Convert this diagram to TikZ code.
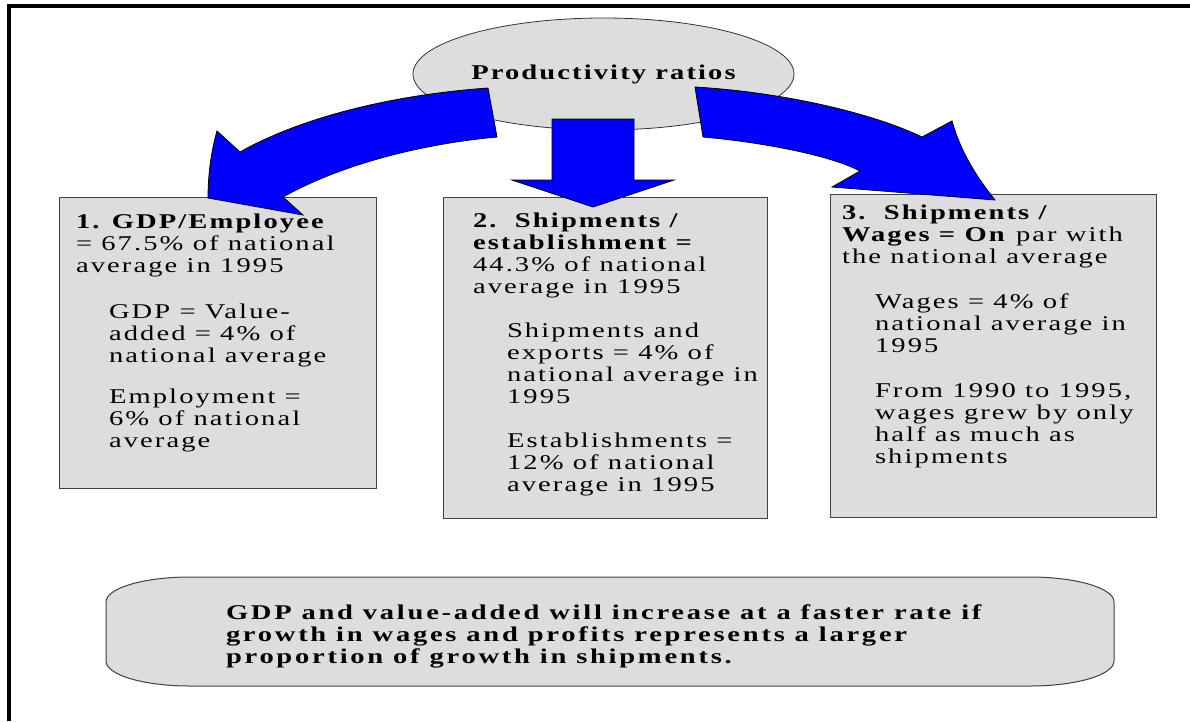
\documentclass[tikz,border=0pt]{standalone}
\usepackage{fontspec}
\setmainfont{Liberation Serif}[FakeStretch=1.36,LetterSpace=10]
\usetikzlibrary{shapes.geometric}
\definecolor{boxgray}{HTML}{DDDDDD}
\definecolor{arrowblue}{HTML}{0000FF}
\begin{document}
\begin{tikzpicture}[x=1pt,y=-1pt,
  box/.style={draw=black!75, fill=boxgray, line width=1pt, inner sep=0pt, outer sep=0pt, anchor=north west},
  blk/.style={fill=arrowblue, draw=black, line width=0.8pt, line join=miter},
  txt/.style={anchor=base west, inner sep=0pt, outer sep=0pt, font=\fontsize{21}{22}\selectfont}]
\useasboundingbox (0,0) rectangle (1190,721);
% frame
\draw[line width=3.5pt] (9,721) -- (9,6) -- (1190,6);
% title ellipse
\node[ellipse, draw=black!80, fill=boxgray, line width=0.8pt, minimum width=381, minimum height=112, inner sep=0pt,
      font=\fontsize{21}{22}\selectfont\bfseries] (ell) at (603.5,74) {Productivity ratios};
% boxes
\node[box, minimum width=317, minimum height=291] (b1) at (59,197) {};
\node[box, minimum width=324, minimum height=321] (b2) at (443,197) {};
\node[box, minimum width=326, minimum height=323] (b3) at (830,194) {};
% box texts
\node[txt] (t1a) at (76,228) {\parbox[t]{300pt}{\textbf{1. GDP/Employee}\\= 67.5\% of national\\average in 1995}};
\node[txt] (t1b) at (109,318) {\parbox[t]{260pt}{GDP = Value-\\added = 4\% of\\national average}};
\node[txt] (t1c) at (109,403) {\parbox[t]{260pt}{Employment =\\6\% of national\\average}};
\node[txt] (t2a) at (473,227) {\parbox[t]{300pt}{\textbf{2.\ \ Shipments /}\\\textbf{establishment =}\\44.3\% of national\\average in 1995}};
\node[txt] (t2b) at (507,337) {\parbox[t]{260pt}{Shipments and\\exports = 4\% of\\national average in\\1995}};
\node[txt] (t2c) at (507,447) {\parbox[t]{260pt}{Establishments =\\12\% of national\\average in 1995}};
\node[txt] (t3a) at (842,219) {\parbox[t]{310pt}{\textbf{3.\ \ Shipments /}\\\textbf{Wages = On} par with\\the national average}};
\node[txt] (t3b) at (875,308) {\parbox[t]{280pt}{Wages = 4\% of\\national average in\\1995}};
\node[txt] (t3c) at (875,397) {\parbox[t]{280pt}{From 1990 to 1995,\\wages grew by only\\half as much as\\shipments}};
% arrows
\coordinate (lt) at (488,88);
\coordinate (lb) at (497,137);
\draw[blk] (lt) .. controls (390,95) and (300,118) .. (240,152) -- (217,131)
  .. controls (210,155) and (208,180) .. (208,198) -- (303,215) -- (283,197)
  .. controls (340,165) and (420,144) .. (lb) -- cycle;
\coordinate (ct) at (593,119);
\draw[blk] (552,119) -- (634,119) -- (634,180) -- (674,180) -- (593,207) -- (512,180) -- (552,180) -- cycle;
\coordinate (rt) at (695,87);
\coordinate (rb) at (703,137);
\draw[blk] (rt) .. controls (780,92) and (870,112) .. (922,137) -- (952,121)
  .. controls (960,150) and (975,175) .. (995,200) -- (832,187) -- (860,171)
  .. controls (830,155) and (760,142) .. (rb) -- cycle;
% bottom box
\draw[draw=black!75, fill=boxgray, line width=1pt]
  (190,577) -- (1030,577) .. controls (1076,577) and (1114,588) .. (1114,602)
  -- (1114,661) .. controls (1114,675) and (1076,686) .. (1030,686)
  -- (190,686) .. controls (144,686) and (106,675) .. (106,661)
  -- (106,602) .. controls (106,588) and (144,577) .. (190,577) -- cycle;
\node[txt] (bt) at (226,619) {\parbox[t]{880pt}{\bfseries\addfontfeature{LetterSpace=13}GDP and value-added will increase at a faster rate if\\growth in wages and profits represents a larger\\proportion of growth in shipments.}};
\end{tikzpicture}
\end{document}
